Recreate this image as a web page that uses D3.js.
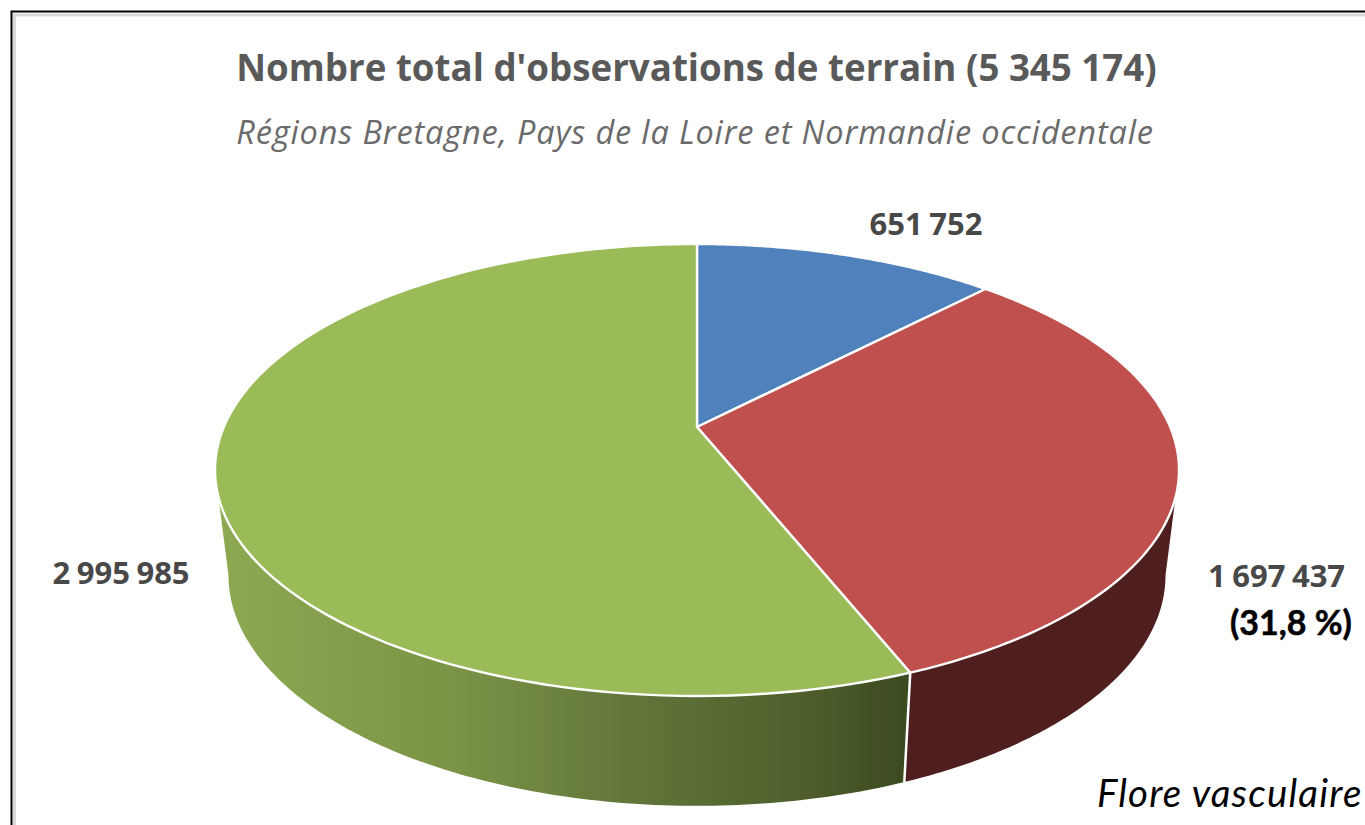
<!DOCTYPE html>
<html><head><meta charset="utf-8">
<script src="https://cdnjs.cloudflare.com/ajax/libs/d3/7.8.5/d3.min.js"></script>
<style>html,body{margin:0;padding:0;background:#fff;overflow:hidden}svg{display:block}</style>
</head><body><svg id="c" width="1365" height="825"></svg>
<script>
const categories = ["Série 1", "Série 2", "Série 3"];
const values = [651752, 1697437, 2995985];
const valueLabels = ["651 752", "1 697 437", "2 995 985"];
const topColors = ["#4f81bd", "#c0504d", "#9bbb59"];
const titleText = "Nombre total d'observations de terrain (5 345 174)";
const subtitleText = "Régions Bretagne, Pays de la Loire et Normandie occidentale";

const svg = d3.select("#c");
const W = 1365, H = 825;
const cx = 697, cy = 427, k = 0.1903, Rx = 473.2, Ry = 217.8;
const baseSx = 0.972, baseSy = 1.02, baseY = 531.5;
const project = (a, sx = 1, sy = 1, y0 = cy) => {
  const u = Math.sin(a), v = Math.cos(a), w = 1 / (1 + k * v);
  return [cx + sx * Rx * u * w, y0 - sy * Ry * v * w];
};
const topPts = (a0, a1) => d3.range(0, 121).map(i => project(a0 + (a1 - a0) * i / 120));
const basePts = (a0, a1) => d3.range(0, 121).map(i => project(a0 + (a1 - a0) * i / 120, baseSx, baseSy, baseY));
const line = d3.line();
const arcs = d3.pie().sort(null).value(d => d)(values);

// frame
svg.append("path").attr("d", `M11.5,${H}V11.5H${W}`).attr("fill", "none").attr("stroke", "#000").attr("stroke-width", 2);
svg.append("path").attr("d", `M14.5,${H}V15H${W}`).attr("fill", "none").attr("stroke", "#d9d9d9").attr("stroke-width", 3);

const defs = svg.append("defs");
const g = defs.append("linearGradient").attr("id", "gs").attr("gradientUnits", "userSpaceOnUse")
  .attr("x1", 215).attr("x2", 905).attr("y1", 0).attr("y2", 0);
[[0, "#8daa52"], [0.35, "#7a9346"], [0.6, "#62763a"], [0.85, "#4e5f2c"], [1, "#3c4a20"]]
  .forEach(([o, c]) => g.append("stop").attr("offset", o).attr("stop-color", c));

const sideFill = ["#27405e", "#4e1f1e", "url(#gs)"];
const pie = svg.append("g");

// side walls: visible between the two silhouette angles of the perspective ellipse
const silhouette = Math.acos(-k);
arcs.forEach((d, i) => {
  const a0 = Math.max(d.startAngle, silhouette), a1 = Math.min(d.endAngle, 2 * Math.PI - silhouette);
  if (a1 <= a0) return;
  const poly = topPts(a0, a1).concat(basePts(a0, a1).reverse());
  pie.append("path").attr("d", line(poly) + "Z").attr("fill", sideFill[i]);
});
// white seam on the wall between red and green
const seam = arcs[1].endAngle;
pie.append("path").attr("d", line([project(seam), project(seam, baseSx, baseSy, baseY)]))
  .attr("stroke", "#fff").attr("stroke-width", 2.5).attr("fill", "none");

// top faces
arcs.forEach((d, i) => {
  const p = [[cx, cy]].concat(topPts(d.startAngle, d.endAngle));
  pie.append("path").attr("d", line(p) + "Z").attr("fill", topColors[i])
    .attr("stroke", "#fff").attr("stroke-width", 2.4).attr("stroke-linejoin", "round");
});

const text = (s, x, y, size, fill, opts = {}) => svg.append("text").attr("x", x).attr("y", y)
  .attr("font-family", opts.family || "'Open Sans'").attr("font-size", size).attr("fill", fill)
  .attr("font-weight", opts.weight || 400).attr("font-style", opts.style || "normal")
  .attr("letter-spacing", opts.ls || 0).attr("word-spacing", opts.ws || 0)
  .attr("stroke", opts.stroke || "none").attr("stroke-width", opts.stroke ? 0.5 : 0)
  .attr("text-anchor", opts.anchor || "start").text(s);

text(titleText, 696.5, 80.5, 36.7, "#595959", {weight: 700, anchor: "middle"});
text(subtitleText, 695, 144, 32.5, "#6a6a6a", {style: "italic", anchor: "middle", ls: 0.86});
const lab = {weight: 700, anchor: "middle", ws: -1.5};
text(valueLabels[0], 926, 235, 31, "#484848", lab);
text(valueLabels[1], 1276.5, 587, 31, "#484848", lab);
text(valueLabels[2], 121, 584, 31, "#484848", lab);
text("(31,8 %)", 1291, 635, 34, "#000", {family: "Lato", weight: 700, anchor: "middle", stroke: "#000"});
text("Flore vasculaire", 1097, 807, 38.5, "#000", {family: "Lato", style: "italic", ls: 1.2});
</script></body></html>
